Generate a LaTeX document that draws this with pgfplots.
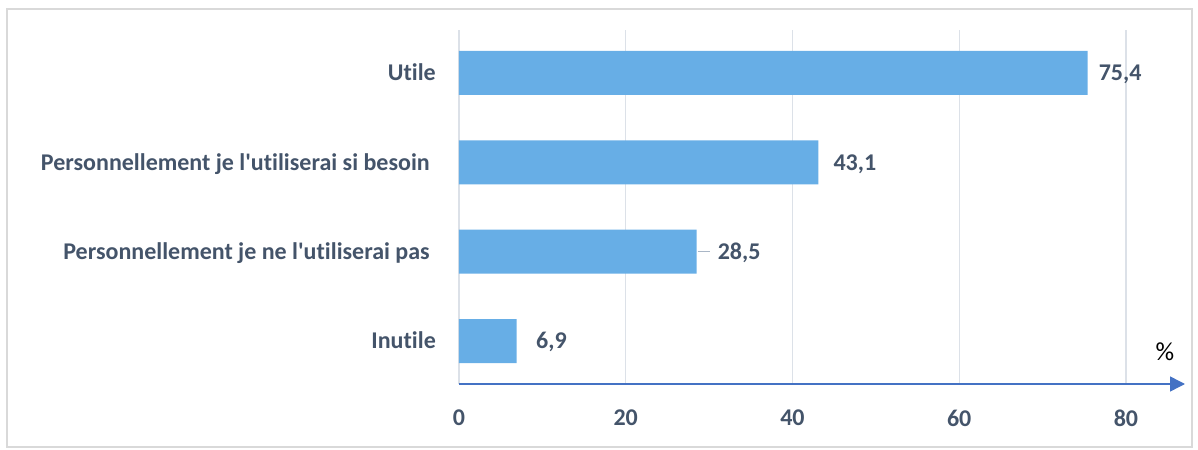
\documentclass[border=0pt]{standalone}
\usepackage{fontspec}
\setmainfont{Carlito}[Ligatures={NoCommon}]
\usepackage{pgfplots}
\usepackage{pgfplotstable}
\pgfplotsset{compat=1.18}
\usetikzlibrary{arrows.meta}

\definecolor{barblue}{HTML}{67AEE6}
\definecolor{slate}{HTML}{44546A}
\definecolor{axisblue}{HTML}{4472C4}
\definecolor{gridc}{HTML}{DCE1E8}
\definecolor{framec}{HTML}{D9D9D9}
\definecolor{leaderc}{HTML}{A9B6C6}

% y = position (0 = bottom), x = percent, dx = label offset
\pgfplotstableread{
y x label dx
0 6.9 6,9 19.5
1 28.5 28,5 21
2 43.1 43,1 15
3 75.4 75,4 11
}\answers

\begin{document}
\begin{tikzpicture}
\useasboundingbox (-459bp,-66bp) rectangle (739bp,384bp);
\draw[framec, line width=1.5bp] (-452bp,-63bp) rectangle (733bp,375bp);
\begin{axis}[
    xbar, scale only axis,
    width=726bp, height=354bp,
    xmin=0, xmax=87.08,
    ymin=-0.481, ymax=3.481,
    bar width=44bp,
    axis x line*=bottom, axis y line*=left,
    x axis line style={axisblue, line width=1.5bp, -{Triangle[length=15bp,width=15bp]}},
    y axis line style={draw=none},
    major tick length=0pt,
    xtick={0,20,40,60,80},
    xticklabels={0,20,40,60,80},
    ytick={0,1,2,3},
    yticklabels={Inutile,
        Personnellement je ne l\textquotesingle utiliserai pas\kern6bp,
        Personnellement je l\textquotesingle utiliserai si besoin\kern6bp,
        Utile},
    xmajorgrids, major grid style={gridc, line width=1.3bp},
    tick label style={font=\fontsize{24bp}{28bp}\selectfont\bfseries, text=slate, inner sep=0pt},
    xticklabel style={anchor=center, yshift=-34bp},
    yticklabel style={anchor=base east, xshift=-23bp, yshift=-7.7bp},
    nodes near coords,
    point meta=explicit symbolic,
    visualization depends on={\thisrow{dx} \as \dx},
    nodes near coords style={font=\fontsize{24bp}{28bp}\selectfont\bfseries, text=slate,
        anchor=base west, inner sep=0pt, xshift=\dx bp, yshift=-7.7bp},
]
\addplot[fill=barblue, draw=none] table[x=x, y=y, meta=label] {\answers};
\draw[leaderc, line width=1.5bp] ([xshift=1bp]axis cs:28.5,1) -- ([xshift=13bp]axis cs:28.5,1);
\end{axis}
\node[font=\fontsize{26bp}{30bp}\selectfont, anchor=center] at (706bp,32bp) {\%};
\end{tikzpicture}
\end{document}
